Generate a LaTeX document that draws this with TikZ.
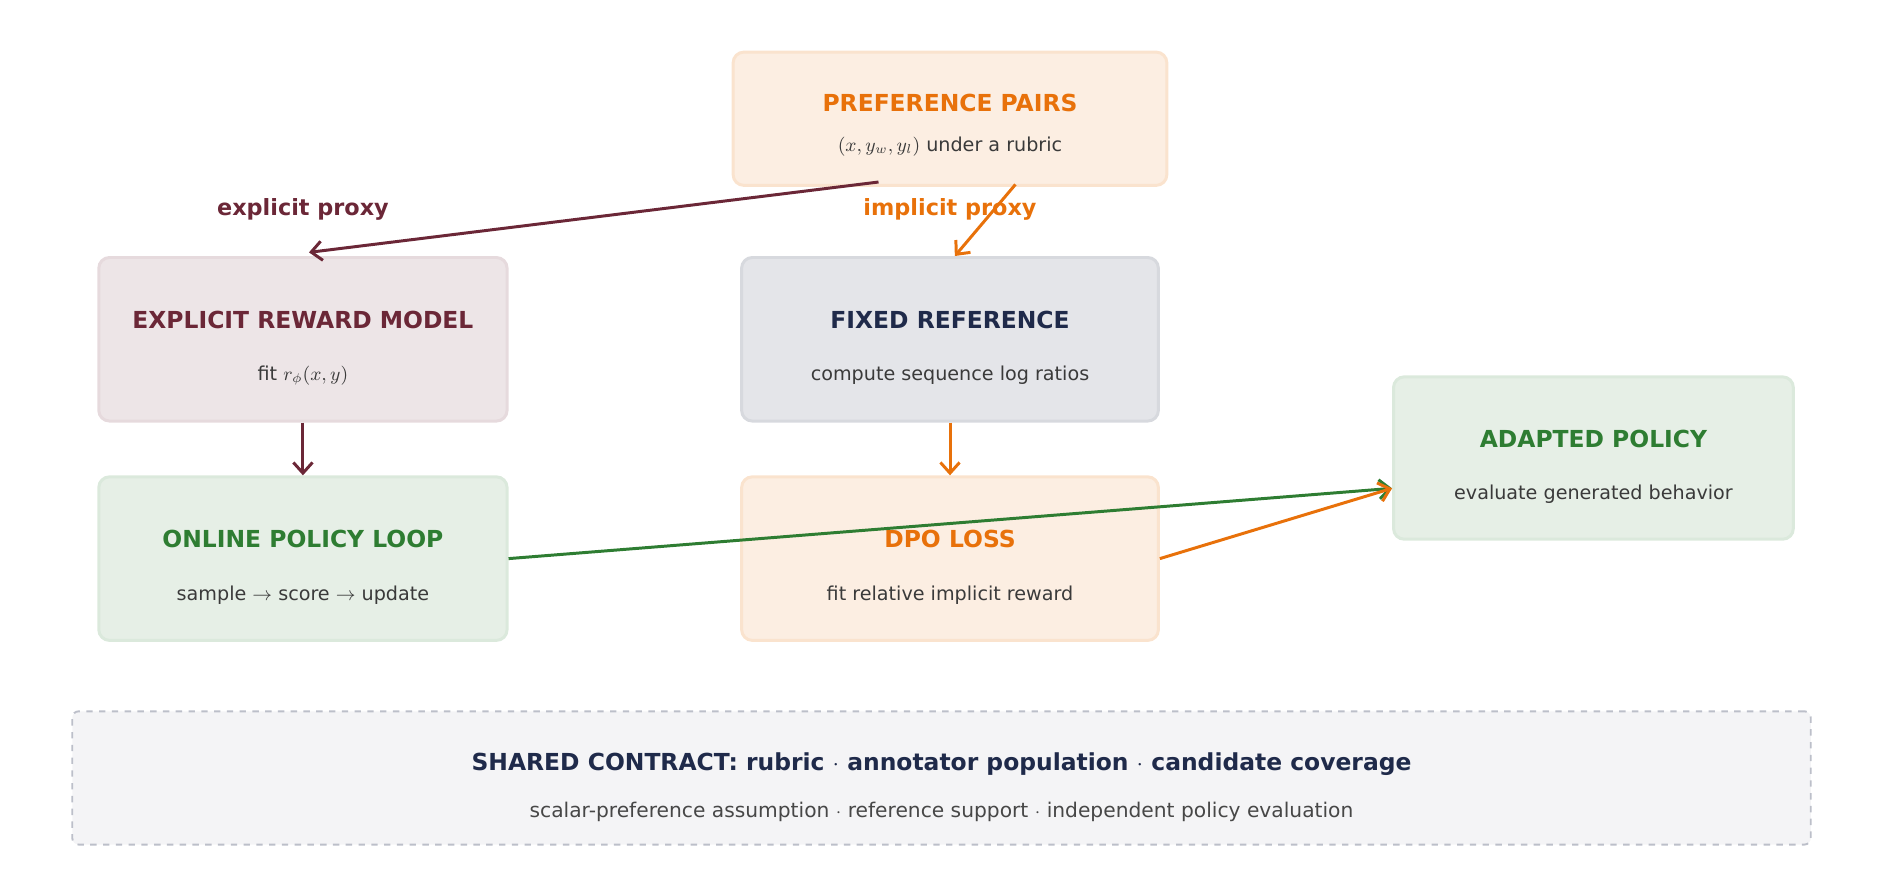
\documentclass[tikz,border=0pt]{standalone}
\usepackage{fontspec}
\setmainfont{DejaVu Sans}
\usetikzlibrary{positioning,calc,arrows.meta}
\definecolor{maroon}{HTML}{6B2737}
\definecolor{orng}{HTML}{E8710A}
\definecolor{navy}{HTML}{1F2A4A}
\definecolor{grn}{HTML}{2E7D32}
\definecolor{txt}{HTML}{3A3A3A}
\tikzset{
    box/.style={draw, line width=1.4pt, rounded corners=5pt, inner sep=0pt},
    orangebox/.style={box, fill=orng!12!white, draw=orng!20!white},
    maroonbox/.style={box, fill=maroon!12!white, draw=maroon!17!white},
    navybox/.style={box, fill=navy!12!white, draw=navy!18!white},
    greenbox/.style={box, fill=grn!12!white, draw=grn!17!white},
    title/.style={font=\fontsize{11}{13}\selectfont\bfseries},
    sub/.style={font=\fontsize{9}{11}\selectfont, text=txt},
    link/.style={line width=1.4pt, -{Straight Barb[length=5pt,width=9pt]}},
}
\begin{document}
\begin{tikzpicture}[x=0.02cm, y=-0.02cm]
\useasboundingbox (0,0) rectangle (1568,729);
% boxes
\node [orangebox, minimum width=7.16cm, minimum height=2.2cm] (pref) at (784,98) {};
\node [maroonbox, minimum width=6.74cm, minimum height=2.7cm] (rm) at (250,280) {};
\node [navybox, minimum width=6.88cm, minimum height=2.7cm] (ref) at (784,280) {};
\node [greenbox, minimum width=6.74cm, minimum height=2.7cm] (loop) at (250,461) {};
\node [orangebox, minimum width=6.88cm, minimum height=2.7cm] (dpo) at (784,461) {};
\node [greenbox, minimum width=6.6cm, minimum height=2.68cm] (adapted) at (1315,378) {};
\node [box, dashed, line width=0.9pt, rounded corners=3pt, fill=navy!5!white, draw=navy!30!white,
    minimum width=28.7cm, minimum height=2.2cm] (shared) at (777,642) {};
% texts
\node [title, text=orng] (pref-t) at (784,85) {PREFERENCE PAIRS};
\node [sub] (pref-s) at (784,121) {$(x, y_w, y_l)$ under a rubric};
\node [title, text=maroon] (rm-t) at (250,264) {EXPLICIT REWARD MODEL};
\node [sub] (rm-s) at (250,310) {fit $r_\phi(x, y)$};
\node [title, text=navy] (ref-t) at (784,264) {FIXED REFERENCE};
\node [sub] (ref-s) at (784,310) {compute sequence log ratios};
\node [title, text=grn] (loop-t) at (250,445) {ONLINE POLICY LOOP};
\node [sub] (loop-s) at (250,491) {sample $\rightarrow$ score $\rightarrow$ update};
\node [title, text=orng] (dpo-t) at (784,445) {DPO LOSS};
\node [sub] (dpo-s) at (784,491) {fit relative implicit reward};
\node [title, text=grn] (adapted-t) at (1315,362) {ADAPTED POLICY};
\node [sub] (adapted-s) at (1315,408) {evaluate generated behavior};
\node [title, text=navy] (shared-t) at (777,631) {SHARED CONTRACT: rubric $\cdot$ annotator population $\cdot$ candidate coverage};
\node [sub, text=black!72, font=\fontsize{9.5}{11}\selectfont] (shared-s) at (777,670) {scalar-preference assumption $\cdot$ reference support $\cdot$ independent policy evaluation};
\node [title, text=maroon, font=\fontsize{10.5}{12}\selectfont\bfseries] (explicit-l) at (250,173) {explicit proxy};
\node [title, text=orng, font=\fontsize{10.5}{12}\selectfont\bfseries] (implicit-l) at (784,173) {implicit proxy};
% connectors
\draw [link, maroon] ($(pref.south)+(-59,-4)$) -- ($(rm.north)+(5,-3)$);
\draw [link, orng] ($(pref.south)+(54,-2)$) -- ($(ref.north)+(4,0)$);
\draw [link, maroon] (rm.south) -- (loop.north);
\draw [link, orng] (ref.south) -- (dpo.north);
\draw [link, grn] (loop.east) -- ($(adapted.west)+(0,25)$);
\draw [link, orng] (dpo.east) -- ($(adapted.west)+(0,25)$);
\end{tikzpicture}
\end{document}
